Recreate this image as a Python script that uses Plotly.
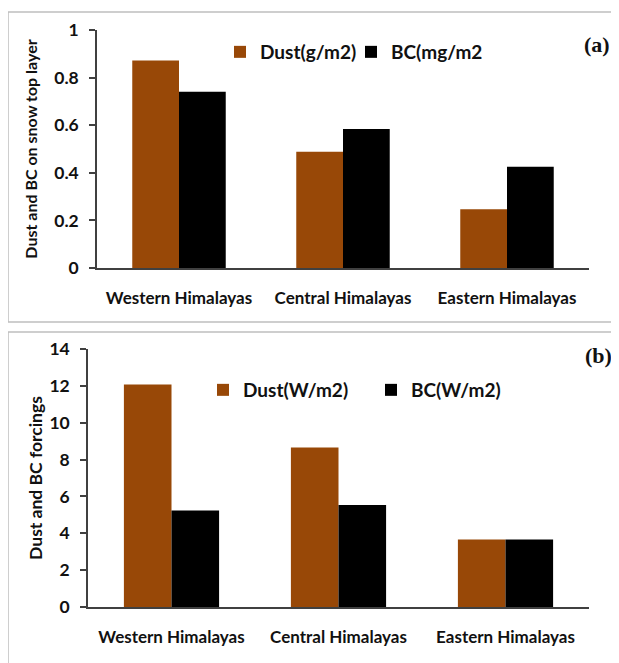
import plotly.graph_objects as go

regions = ["Western Himalayas", "Central Himalayas", "Eastern Himalayas"]
dust_load = [0.872, 0.488, 0.247]     # g/m2
bc_load = [0.741, 0.584, 0.425]       # mg/m2
dust_forcing = [12.07, 8.66, 3.66]    # W/m2
bc_forcing = [5.24, 5.54, 3.66]       # W/m2

DUST = "#984807"
BC = "#000000"
AX = "#404040"
# page body keeps its default 8px margin, so the figure is sized to fit inside it
OFF = 8
W, H = 619 - OFF, 663 - OFF

def px(x):
    return (x - OFF) / W

def py(y):
    return 1 - (y - OFF) / H

fig = go.Figure()
fig.add_trace(go.Bar(x=regions, y=dust_load, name="Dust(g/m2)", marker_color=DUST,
                     xaxis="x", yaxis="y", legend="legend"))
fig.add_trace(go.Bar(x=regions, y=bc_load, name="BC(mg/m2)", marker_color=BC,
                     xaxis="x", yaxis="y", legend="legend"))
fig.add_trace(go.Bar(x=regions, y=dust_forcing, name="Dust(W/m2)", marker_color=DUST,
                     xaxis="x2", yaxis="y2", legend="legend2"))
fig.add_trace(go.Bar(x=regions, y=bc_forcing, name="BC(W/m2)", marker_color=BC,
                     xaxis="x2", yaxis="y2", legend="legend2"))
fig.update_traces(marker_line_width=0)

tickf = dict(family="Lato", size=17.5, color="#111", weight="bold")
catf = dict(family="Lato", size=17, color="#111", weight="bold")
titfa = dict(family="Lato", size=16, color="#111", weight="bold")
titfb = dict(family="Lato", size=17.5, color="#111", weight="bold")
legf = dict(family="Lato", size=19, color="#111", weight="bold")

xcommon = dict(showline=True, linecolor=AX, linewidth=1.5, ticks="", showgrid=False,
               zeroline=False, tickfont=catf, ticklabelstandoff=14, automargin=False)
ycommon = dict(showline=True, linecolor=AX, linewidth=1.5, ticks="outside", ticklen=6,
               tickcolor=AX, tickwidth=1.5, showgrid=False, zeroline=False,
               tickfont=tickf, ticklabelstandoff=7, automargin=False)

fig.update_layout(
    width=W, height=H,
    margin=dict(l=0, r=0, t=0, b=0),
    paper_bgcolor="white", plot_bgcolor="white",
    barmode="group", bargap=0.43, bargroupgap=0,
    xaxis=dict(domain=[px(97), px(589)], anchor="y", **xcommon),
    yaxis=dict(domain=[py(268), py(30)], anchor="x", range=[0, 1], dtick=0.2,
               title=dict(text="Dust and BC on snow top layer", font=titfa, standoff=13),
               **ycommon),
    xaxis2=dict(domain=[px(88), px(589)], anchor="y2", **xcommon),
    yaxis2=dict(domain=[py(607), py(349)], anchor="x2", range=[0, 14], dtick=2,
                title=dict(text="Dust and BC forcings", font=titfb, standoff=2),
                **ycommon),
    legend=dict(orientation="h", x=px(220), y=py(52), xanchor="left", yanchor="middle",
                font=legf, bgcolor="rgba(0,0,0,0)", entrywidth=86, entrywidthmode="pixels",
                itemclick=False),
    legend2=dict(orientation="h", x=px(203), y=py(390), xanchor="left", yanchor="middle",
                 font=legf, bgcolor="rgba(0,0,0,0)", entrywidth=123, entrywidthmode="pixels",
                 itemclick=False),
    shapes=[
        dict(type="rect", xref="paper", yref="paper", x0=px(8), x1=px(640), y0=py(322), y1=py(12),
             line=dict(color="#bfbfbf", width=1.5), fillcolor="rgba(0,0,0,0)", layer="below"),
        dict(type="rect", xref="paper", yref="paper", x0=px(8), x1=px(640), y0=py(700), y1=py(332),
             line=dict(color="#bfbfbf", width=1.5), fillcolor="rgba(0,0,0,0)", layer="below"),
    ],
    annotations=[
        dict(text="(a)", xref="paper", yref="paper", x=px(597), y=py(44), showarrow=False,
             xanchor="center", yanchor="middle",
             font=dict(family="Liberation Serif", size=22, color="#111", weight="bold")),
        dict(text="(b)", xref="paper", yref="paper", x=px(598), y=py(355), showarrow=False,
             xanchor="center", yanchor="middle",
             font=dict(family="Liberation Serif", size=22, color="#111", weight="bold")),
    ],
)

fig.write_html("out.html")
